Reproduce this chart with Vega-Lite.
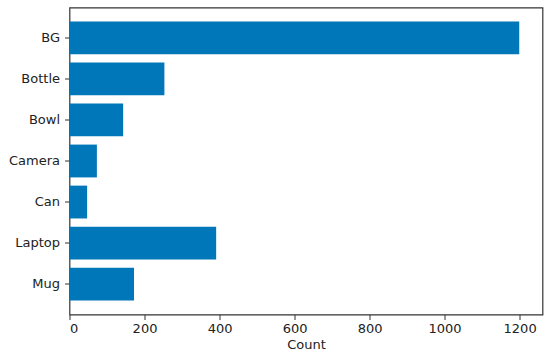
{
  "$schema": "https://vega.github.io/schema/vega-lite/v6.json",
  "width": 473,
  "height": 307,
  "autosize": {"type": "none"},
  "padding": {"left": 69.5, "top": 7.5, "right": 7, "bottom": 40},
  "background": "white",
  "config": {
    "view": {"stroke": "#333333", "strokeWidth": 1.2},
    "font": "DejaVu Sans"
  },
  "data": {
    "values": [
      {"category": "BG", "count": 1199},
      {"category": "Bottle", "count": 253},
      {"category": "Bowl", "count": 143},
      {"category": "Camera", "count": 73},
      {"category": "Can", "count": 47},
      {"category": "Laptop", "count": 391},
      {"category": "Mug", "count": 172}
    ]
  },
  "mark": {"type": "bar", "color": "#0077B8"},
  "encoding": {
    "y": {
      "field": "category",
      "type": "nominal",
      "sort": ["BG", "Bottle", "Bowl", "Camera", "Can", "Laptop", "Mug"],
      "scale": {"paddingInner": 0.2, "paddingOuter": 0.34},
      "axis": {
        "title": null,
        "domain": false,
        "ticks": true,
        "tickColor": "#333333",
        "tickSize": 5,
        "labelPadding": 5,
        "labelFontSize": 13,
        "labelColor": "#222222",
        "grid": false
      }
    },
    "x": {
      "field": "count",
      "type": "quantitative",
      "scale": {"domain": [0, 1261], "nice": false, "zero": true},
      "axis": {
        "title": "Count",
        "titleFontSize": 13,
        "titleFontWeight": "normal",
        "titleColor": "#222222",
        "titlePadding": 3,
        "values": [0, 200, 400, 600, 800, 1000, 1200],
        "format": "d",
        "domain": false,
        "tickColor": "#333333",
        "tickSize": 5,
        "labelPadding": 3,
        "labelFontSize": 13,
        "labelColor": "#222222",
        "grid": false
      }
    }
  }
}
